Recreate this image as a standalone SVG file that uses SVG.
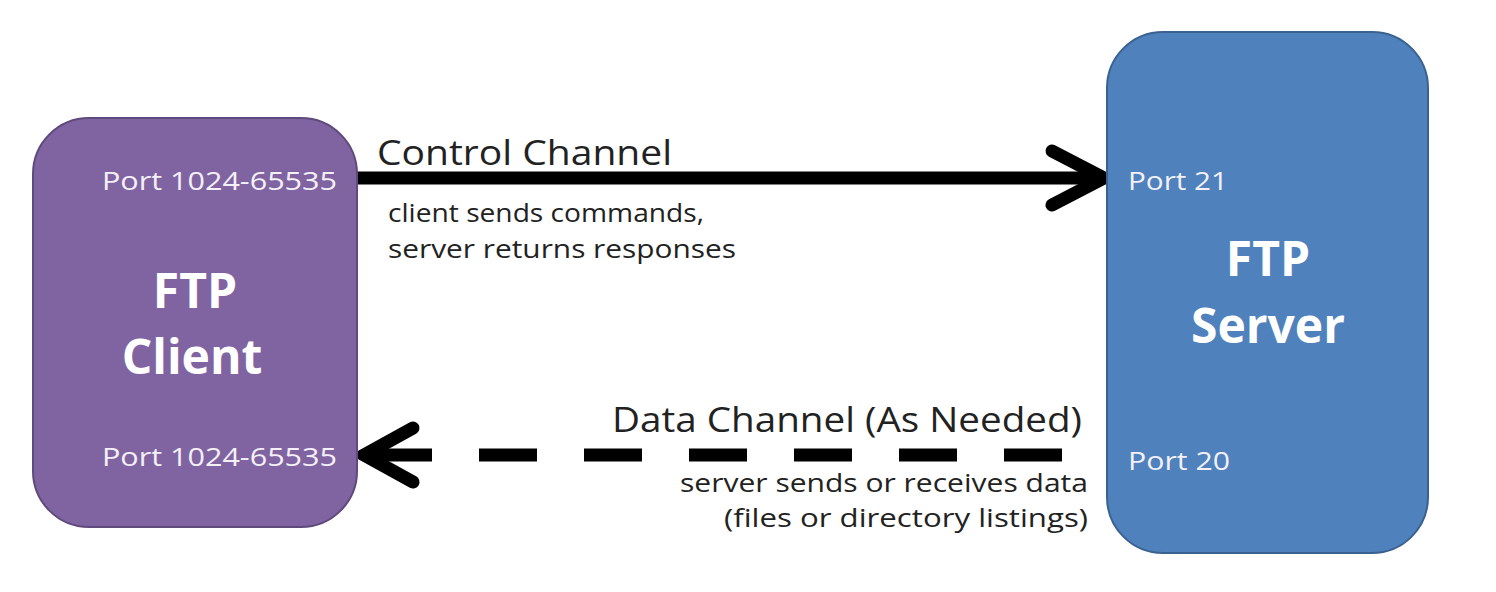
<svg xmlns="http://www.w3.org/2000/svg" width="1496" height="592" viewBox="0 0 1496 592">
<style>
.lbl{font-family:"Open Sans","Liberation Sans",sans-serif;fill:#222;}
.port{font-family:"Open Sans","Liberation Sans",sans-serif;fill:#f4f0f8;font-size:25px;}
.title{font-family:"Open Sans","Liberation Sans",sans-serif;fill:#fff;font-weight:bold;font-size:48px;text-anchor:middle;}
.ln{stroke:#000;stroke-width:13;fill:none;}
.head{stroke:#000;stroke-width:13;fill:none;stroke-linecap:round;stroke-linejoin:miter;}
</style>
<rect width="1496" height="592" fill="#ffffff"/>
<g id="connectors">
<line class="ln" x1="357" y1="178" x2="1100" y2="178"/>
<polyline class="head" points="1052,151 1104,178 1052,205"/>
<line class="ln" x1="1167" y1="455" x2="368" y2="455" stroke-dasharray="58 47"/>
<polyline class="head" points="413,428 364,455 413,482"/>
</g>
<g id="client">
<rect x="33" y="118" width="324" height="409" rx="56" ry="56" fill="#8064A2" stroke="#5E4A7C" stroke-width="2"/>
<text class="port" x="337" y="190" text-anchor="end" textLength="235" lengthAdjust="spacingAndGlyphs">Port 1024-65535</text>
<text class="title" x="195" y="308">FTP</text>
<text class="title" x="192" y="374">Client</text>
<text class="port" x="337" y="466" text-anchor="end" textLength="235" lengthAdjust="spacingAndGlyphs">Port 1024-65535</text>
</g>
<g id="server">
<rect x="1107" y="32" width="321" height="521" rx="56" ry="56" fill="#4F81BD" stroke="#3A6291" stroke-width="2"/>
<text class="port" x="1128" y="190" textLength="100" lengthAdjust="spacingAndGlyphs">Port 21</text>
<text class="title" x="1268" y="276">FTP</text>
<text class="title" x="1268" y="343">Server</text>
<text class="port" x="1128" y="470" textLength="102" lengthAdjust="spacingAndGlyphs">Port 20</text>
</g>
<g id="labels">
<text class="lbl" x="377" y="165" font-size="34" textLength="295" lengthAdjust="spacingAndGlyphs">Control Channel</text>
<text class="lbl" x="388" y="222" font-size="25" textLength="316" lengthAdjust="spacingAndGlyphs">client sends commands,</text>
<text class="lbl" x="388" y="258" font-size="25" textLength="348" lengthAdjust="spacingAndGlyphs">server returns responses</text>
<text class="lbl" x="612" y="432" font-size="34" textLength="470" lengthAdjust="spacingAndGlyphs">Data Channel (As Needed)</text>
<text class="lbl" x="680" y="492" font-size="25" textLength="408" lengthAdjust="spacingAndGlyphs">server sends or receives data</text>
<text class="lbl" x="724" y="527" font-size="25" textLength="364" lengthAdjust="spacingAndGlyphs">(files or directory listings)</text>
</g>
</svg>
